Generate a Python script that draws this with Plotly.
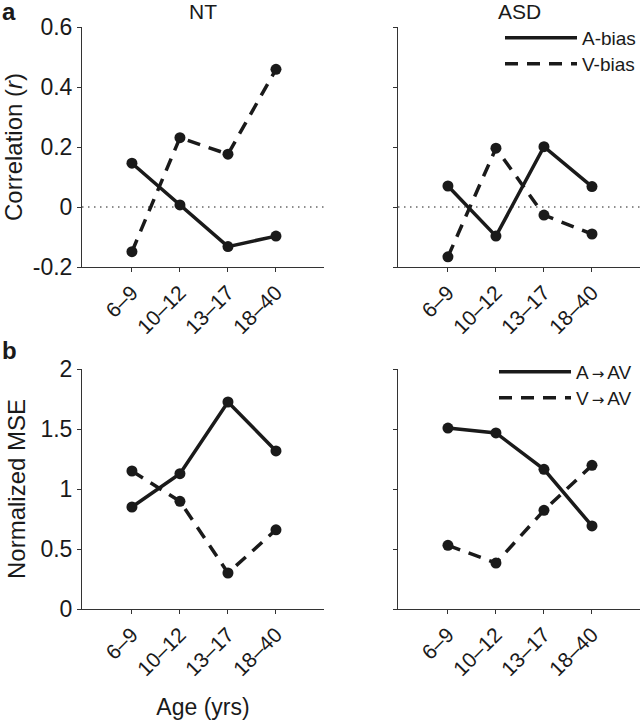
import plotly.graph_objects as go

# age groups (x categories)
ages = ['6–9', '10–12', '13–17', '18–40']

# panel a: correlation (r)
nt_a_bias = [0.146, 0.007, -0.132, -0.097]
nt_v_bias = [-0.149, 0.231, 0.176, 0.459]
asd_a_bias = [0.070, -0.097, 0.201, 0.068]
asd_v_bias = [-0.166, 0.196, -0.027, -0.090]

# panel b: normalized MSE
nt_a_av = [0.850, 1.128, 1.725, 1.317]
nt_v_av = [1.150, 0.897, 0.300, 0.660]
asd_a_av = [1.508, 1.467, 1.164, 0.692]
asd_v_av = [0.531, 0.383, 0.822, 1.197]

corr_ticks = [-0.2, 0, 0.2, 0.4, 0.6]
corr_ticktext = ['-0.2', '0', '0.2', '0.4', '0.6']
mse_ticks = [0, 0.5, 1, 1.5, 2]
mse_ticktext = ['0', '0.5', '1', '1.5', '2']

FONT = 'Liberation Sans, Arial, sans-serif'
INK = '#1a1a1a'
AXIS = '#333333'
DASH = '13px,9px'
ARROW = "<span style='font-family:DejaVu Sans;font-size:15px'>\u2009→\u2009</span>"

W, H = 640, 721
left_dom = [82 / W, 324 / W]
right_dom = [398 / W, 1.0]
top_dom = [1 - 267 / H, 1 - 27 / H]
bot_dom = [1 - 609 / H, 1 - 369 / H]

fig = go.Figure()


def series(x_ax, y_ax, values, dash):
    fig.add_trace(go.Scatter(
        x=ages, y=values, xaxis=x_ax, yaxis=y_ax,
        mode='lines+markers', showlegend=False, cliponaxis=False,
        line=dict(color=INK, width=3.5, dash=dash),
        marker=dict(color=INK, size=11),
    ))


series('x', 'y', nt_a_bias, 'solid')
series('x', 'y', nt_v_bias, DASH)
series('x2', 'y2', asd_a_bias, 'solid')
series('x2', 'y2', asd_v_bias, DASH)
series('x3', 'y3', nt_a_av, 'solid')
series('x3', 'y3', nt_v_av, DASH)
series('x4', 'y4', asd_a_av, 'solid')
series('x4', 'y4', asd_v_av, DASH)

# legend-only entries (lines without markers), one legend box per entry
legend_entries = [
    ('A-bias', 'solid', 'legend'),
    ('V-bias', DASH, 'legend2'),
    ('A' + ARROW + 'AV', 'solid', 'legend3'),
    ('V' + ARROW + 'AV', DASH, 'legend4'),
]
for name, dash, leg in legend_entries:
    fig.add_trace(go.Scatter(
        x=[None], y=[None], mode='lines', name=name, legend=leg,
        xaxis='x2', yaxis='y2',
        line=dict(color=INK, width=3.5, dash=dash),
    ))


def xaxis(domain, anchor, title=None):
    d = dict(
        domain=domain, anchor=anchor, type='category', range=[-1.04, 4.0],
        showline=True, linecolor=AXIS, linewidth=1, showgrid=False, zeroline=False,
        ticks='outside', ticklen=4, tickcolor=AXIS, tickangle=-45,
        tickfont=dict(size=21, color=INK),
    )
    if title:
        d['title'] = dict(text=title, font=dict(size=23, color=INK), standoff=19)
    return d


def yaxis(domain, anchor, rng, tv, tt, labels, title=None):
    d = dict(
        domain=domain, anchor=anchor, range=rng,
        tickvals=tv, ticktext=tt, showticklabels=labels,
        showline=True, linecolor=AXIS, linewidth=1, showgrid=False, zeroline=False,
        ticks='outside', ticklen=4, tickcolor=AXIS,
        tickfont=dict(size=23, color=INK),
    )
    if title:
        d['title'] = dict(text=title, font=dict(size=24, color=INK), standoff=8)
    return d


def legend_box(x_px, y_px):
    return dict(
        x=x_px / W, y=1 - y_px / H, xanchor='left', yanchor='top',
        bgcolor='rgba(0,0,0,0)', itemwidth=72,
        font=dict(size=19, color=INK),
    )


fig.update_layout(
    width=W, height=H,
    margin=dict(l=0, r=0, t=0, b=0, autoexpand=False),
    paper_bgcolor='white', plot_bgcolor='white',
    font=dict(family=FONT, color=INK),
    xaxis=xaxis(left_dom, 'y'),
    yaxis=yaxis(top_dom, 'x', [-0.2, 0.6], corr_ticks, corr_ticktext, True,
                'Correlation (<i>r</i>)'),
    xaxis2=xaxis(right_dom, 'y2'),
    yaxis2=yaxis(top_dom, 'x2', [-0.2, 0.6], corr_ticks, corr_ticktext, False),
    xaxis3=xaxis(left_dom, 'y3', 'Age (yrs)'),
    yaxis3=yaxis(bot_dom, 'x3', [0, 2], mse_ticks, mse_ticktext, True, 'Normalized MSE'),
    xaxis4=xaxis(right_dom, 'y4'),
    yaxis4=yaxis(bot_dom, 'x4', [0, 2], mse_ticks, mse_ticktext, False),
    legend=legend_box(500, 19),
    legend2=legend_box(500, 45),
    legend3=legend_box(494, 353),
    legend4=legend_box(494, 379),
)

# dotted zero reference lines in panel a
for ax in ['', '2']:
    fig.add_shape(type='line', xref='x%s domain' % ax, yref='y%s' % ax,
                  x0=0, x1=1, y0=0, y1=0, layer='below',
                  line=dict(color=INK, width=1, dash='1.5px,4.5px'))

# panel titles and letters
fig.add_annotation(text='NT', xref='x domain', yref='paper', x=0.5, y=1 - 25 / H,
                   showarrow=False, font=dict(size=21, color=INK), yanchor='bottom')
fig.add_annotation(text='ASD', xref='x2 domain', yref='paper', x=0.5, y=1 - 25 / H,
                   showarrow=False, font=dict(size=21, color=INK), yanchor='bottom')
fig.add_annotation(text='<b>a</b>', xref='paper', yref='paper', x=0, y=1 - 27 / H,
                   xanchor='left', yanchor='bottom', showarrow=False,
                   font=dict(size=24, color=INK))
fig.add_annotation(text='<b>b</b>', xref='paper', yref='paper', x=0, y=1 - 366 / H,
                   xanchor='left', yanchor='bottom', showarrow=False,
                   font=dict(size=24, color=INK))

# drop the page's default body margin so the figure sits at the window origin
fig.write_html('out.html', config={'displayModeBar': False},
               post_script="document.body.style.margin='0px';")
